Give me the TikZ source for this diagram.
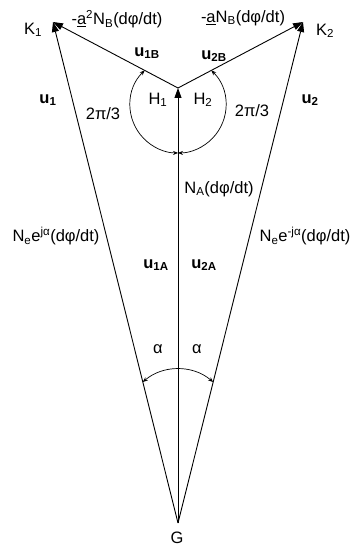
\documentclass[tikz,border=0pt]{standalone}
\usepackage{fontspec}
\setmainfont{Liberation Sans}
\usepackage{tikz}
\usetikzlibrary{calc}
\usetikzlibrary{arrows.meta}

\begin{document}
\begin{tikzpicture}[x=1pt, y=1pt,
        lbl/.style={inner sep=0pt, font=\fontsize{16.5}{18}\selectfont},
        vec/.style={inner sep=0pt, font=\fontsize{16.5}{18}\selectfont\bfseries},
        paths/.style={line width=0.9pt, -{Triangle[length=10pt, width=7pt]}},
        angles/.style={line width=0.7pt, {Stealth[length=5pt, width=4pt]}-{Stealth[length=5pt, width=4pt]}}
    ]
        \useasboundingbox (0,0) rectangle (350,546);

        % Points
        \coordinate (g) at (178,23);
        \coordinate (h) at (178,458);
        \coordinate (k1) at (53,524);
        \coordinate (k2) at (303,524);

        % Paths
        \draw[paths] (g) -- (h);
        \draw[paths] (g) -- (k1);
        \draw[paths] (g) -- (k2);
        \draw[paths] (h) -- (k1);
        \draw[paths] (h) -- (k2);

        % Angles
        \coordinate (a1) at ($(h)!0.2663!(k1)$);
        \coordinate (a2) at ($(h)!0.2663!(k2)$);
        \coordinate (b1) at ($(g)!0.2814!(k1)$);
        \draw[angles] (a1) arc[start angle=134, end angle=270, radius=48];
        \draw[angles] (a2) arc[start angle=46, end angle=-90, radius=48];
        \draw[angles] (b1) arc[start angle=130.6, end angle=49.4, radius=54];

        % Labels
        \node[lbl] (gl) at (177,8) {G};
        \node[lbl] (k1l) at (33,516) {K\textsubscript{1}};
        \node[lbl] (k2l) at (325,515) {K\textsubscript{2}};
        \node[lbl] (h1l) at (158,446) {H\textsubscript{1}};
        \node[lbl] (h2l) at (203,446) {H\textsubscript{2}};

        \node[lbl] (nb1) at (117,527) {-\underline{a}\textsuperscript{2}N\textsubscript{B}(dφ/dt)};
        \node[lbl] (nb2) at (243,528) {-\underline{a}N\textsubscript{B}(dφ/dt)};
        \node[lbl] (na) at (219,357) {N\textsubscript{A}(dφ/dt)};
        \node[lbl] (ne1) at (56,310) {N\textsubscript{e}e\textsuperscript{jα}(dφ/dt)};
        \node[lbl] (ne2) at (305,310) {N\textsubscript{e}e\textsuperscript{-jα}(dφ/dt)};

        \node[lbl] (ang1) at (103,432) {2π/3};
        \node[lbl] (ang2) at (252,435) {2π/3};
        \node[lbl] (al1) at (158,197) {α};
        \node[lbl] (al2) at (197,197) {α};

        \node[vec] (u1) at (48,446) {u\textsubscript{1}};
        \node[vec] (u2) at (310,446) {u\textsubscript{2}};
        \node[vec] (u1b) at (147,493) {u\textsubscript{1B}};
        \node[vec] (u2b) at (214,490) {u\textsubscript{2B}};
        \node[vec] (u1a) at (156,281) {u\textsubscript{1A}};
        \node[vec] (u2a) at (204,281) {u\textsubscript{2A}};
\end{tikzpicture}
\end{document}
